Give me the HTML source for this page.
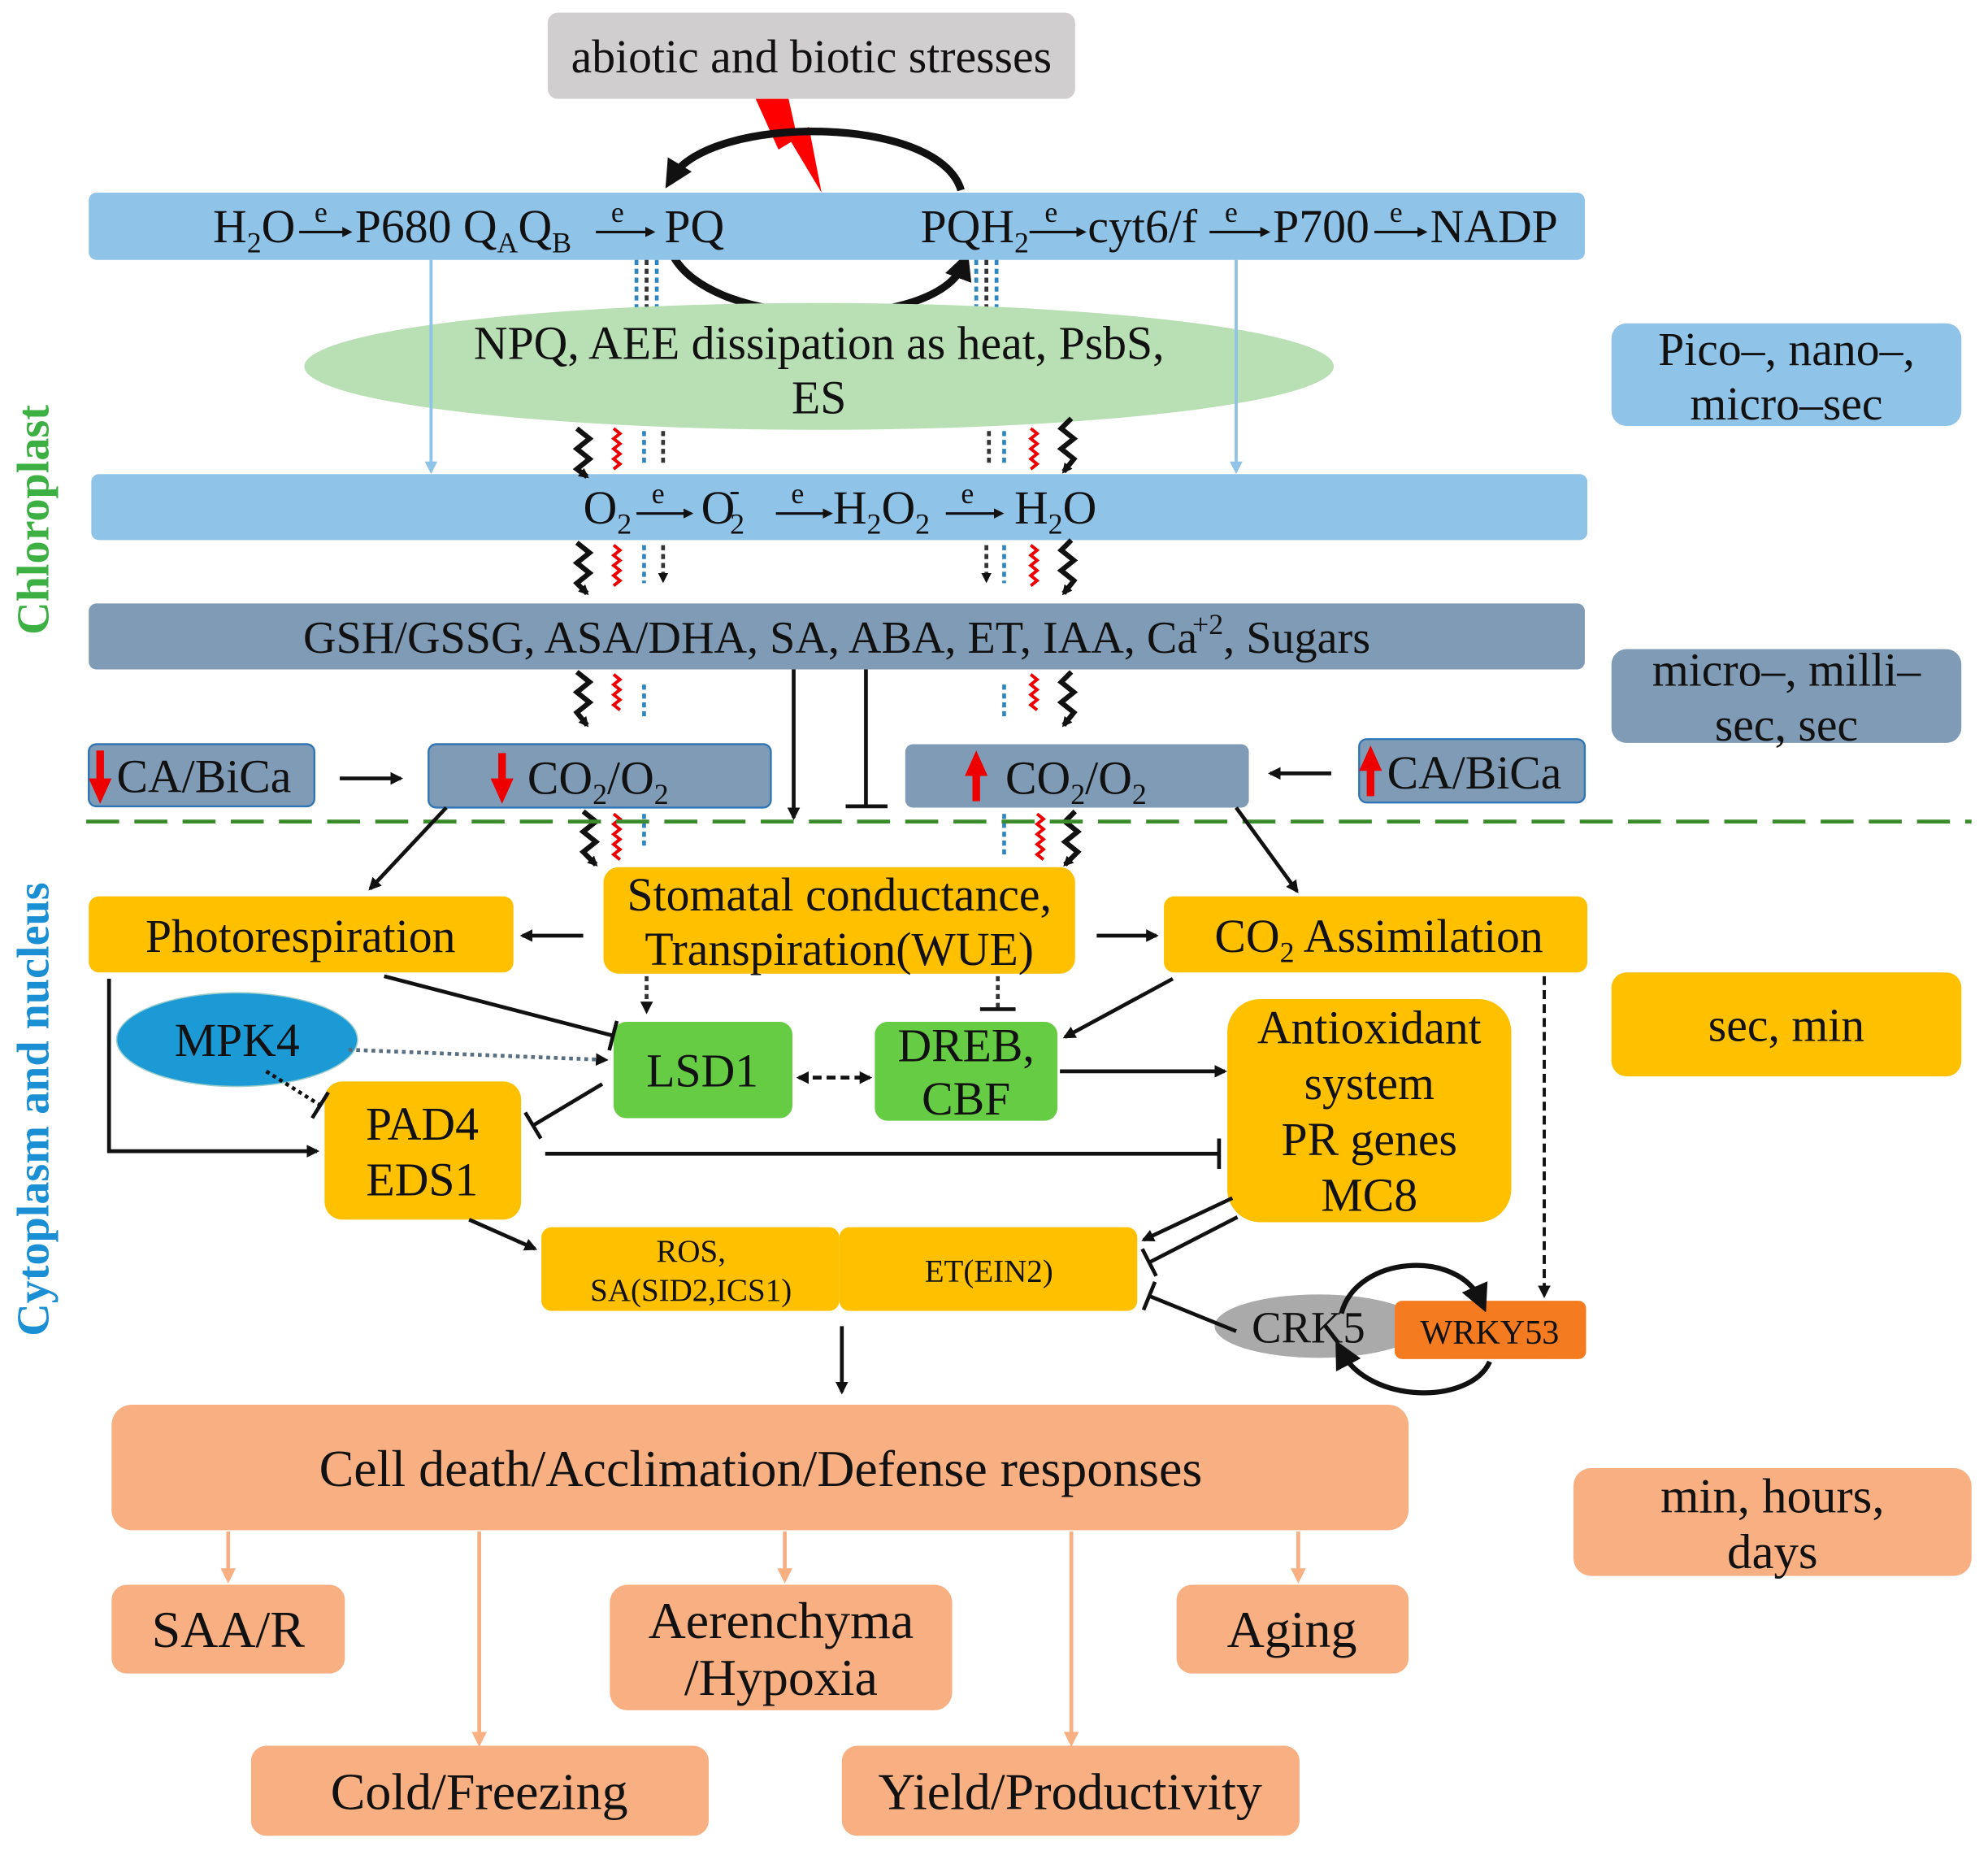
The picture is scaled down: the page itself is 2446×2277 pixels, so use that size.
<!DOCTYPE html>
<html><head><meta charset="utf-8"><style>
html,body{margin:0;padding:0;background:#fff}
svg{display:block}
text{font-family:"Liberation Serif",serif;fill:#111}
</style></head><body>
<svg width="2446" height="2277" viewBox="0 0 1568 1460" preserveAspectRatio="none" xmlns="http://www.w3.org/2000/svg">
<defs>
<marker id="a" markerWidth="8" markerHeight="8" refX="6" refY="4" orient="auto" markerUnits="userSpaceOnUse"><path d="M0,0 L8,4 L0,8 z" fill="#111"/></marker>
<marker id="ab" markerWidth="10" markerHeight="10" refX="8" refY="5" orient="auto" markerUnits="userSpaceOnUse"><path d="M0,0 L10,5 L0,10 z" fill="#111"/></marker>
<marker id="as" markerWidth="10" markerHeight="10" refX="8" refY="5" orient="auto-start-reverse" markerUnits="userSpaceOnUse"><path d="M0,0 L10,5 L0,10 z" fill="#111"/></marker>
<marker id="al" markerWidth="10" markerHeight="10" refX="8" refY="5" orient="auto" markerUnits="userSpaceOnUse"><path d="M0,0 L10,5 L0,10 z" fill="#8fc3e8"/></marker>
<marker id="ao" markerWidth="12" markerHeight="12" refX="9" refY="6" orient="auto" markerUnits="userSpaceOnUse"><path d="M0,0 L12,6 L0,12 z" fill="#f8b083"/></marker>
<marker id="t" markerWidth="4" markerHeight="24" refX="2" refY="12" orient="auto" markerUnits="userSpaceOnUse"><rect x="0" y="0" width="3" height="24" fill="#111"/></marker>
<marker id="ah" markerWidth="22" markerHeight="22" refX="12" refY="11" orient="auto" markerUnits="userSpaceOnUse"><path d="M0,0 L22,11 L0,22 z" fill="#111"/></marker>
</defs>

<rect x="432" y="10" width="416" height="68" rx="8" fill="#d0cece"/>
<text x="640" y="57" font-size="37" text-anchor="middle">abiotic and biotic stresses</text>
<path d="M596,78 L622,78 L628,105 L638,100 L648,152 L624,112 L614,118 Z" fill="#ff0000"/>
<path d="M758,150 C740,90 560,90 530,140" fill="none" stroke="#111" stroke-width="6" marker-end="url(#ah)"/>
<path d="M530,200 C560,262 740,262 760,208" fill="none" stroke="#111" stroke-width="6" marker-end="url(#ah)"/>

<rect x="70" y="152" width="1180" height="53" rx="6" fill="#8fc3e8"/>
<text y="191" font-size="37"><tspan x="168">H</tspan><tspan font-size="23" dy="8">2</tspan><tspan dy="-8">O</tspan></text>
<text x="248" y="175" font-size="23">e</text><line x1="236" y1="183" x2="276" y2="183" stroke="#111" stroke-width="2" marker-end="url(#a)"/>
<text y="191" font-size="37"><tspan x="280">P680 Q</tspan><tspan font-size="23" dy="8">A</tspan><tspan dy="-8">Q</tspan><tspan font-size="23" dy="8">B</tspan></text>
<text x="482" y="175" font-size="23">e</text><line x1="470" y1="183" x2="515" y2="183" stroke="#111" stroke-width="2" marker-end="url(#a)"/>
<text x="524" y="191" font-size="37">PQ</text>
<text y="191" font-size="37"><tspan x="726">PQH</tspan><tspan font-size="23" dy="8">2</tspan></text>
<text x="824" y="175" font-size="23">e</text><line x1="812" y1="183" x2="855" y2="183" stroke="#111" stroke-width="2" marker-end="url(#a)"/>
<text x="858" y="191" font-size="37">cyt6/f</text>
<text x="966" y="175" font-size="23">e</text><line x1="954" y1="183" x2="1000" y2="183" stroke="#111" stroke-width="2" marker-end="url(#a)"/>
<text x="1004" y="191" font-size="37">P700</text>
<text x="1096" y="175" font-size="23">e</text><line x1="1084" y1="183" x2="1124" y2="183" stroke="#111" stroke-width="2" marker-end="url(#a)"/>
<text x="1128" y="191" font-size="37">NADP</text>

<g stroke-width="3" stroke-dasharray="4,3">
<line x1="502" y1="205" x2="502" y2="245" stroke="#2e86c1"/><line x1="510" y1="205" x2="510" y2="245" stroke="#333"/><line x1="518" y1="205" x2="518" y2="245" stroke="#2e86c1"/>
<line x1="770" y1="205" x2="770" y2="245" stroke="#2e86c1"/><line x1="778" y1="205" x2="778" y2="245" stroke="#333"/><line x1="786" y1="205" x2="786" y2="245" stroke="#2e86c1"/>
</g>

<ellipse cx="646" cy="289" rx="406" ry="50" fill="#b9e0b4"/>
<text x="646" y="283" font-size="37" text-anchor="middle">NPQ, AEE dissipation as heat, PsbS,</text>
<text x="646" y="326" font-size="37" text-anchor="middle">ES</text>

<line x1="340" y1="205" x2="340" y2="372" stroke="#8fc3e8" stroke-width="2.5" marker-end="url(#al)"/>
<line x1="975" y1="205" x2="975" y2="372" stroke="#8fc3e8" stroke-width="2.5" marker-end="url(#al)"/>

<rect x="72" y="374" width="1180" height="52" rx="6" fill="#8fc3e8"/>
<text y="413" font-size="37"><tspan x="460">O</tspan><tspan font-size="23" dy="8">2</tspan></text>
<text x="514" y="397" font-size="23">e</text><line x1="502" y1="405" x2="545" y2="405" stroke="#111" stroke-width="2" marker-end="url(#a)"/>
<text y="413" font-size="37"><tspan x="553">O</tspan><tspan font-size="23" dx="-4" dy="8">2</tspan><tspan font-size="25" dx="-12" dy="-26">-</tspan></text>
<text x="624" y="397" font-size="23">e</text><line x1="612" y1="405" x2="655" y2="405" stroke="#111" stroke-width="2" marker-end="url(#a)"/>
<text y="413" font-size="37"><tspan x="657">H</tspan><tspan font-size="23" dy="8">2</tspan><tspan dy="-8">O</tspan><tspan font-size="23" dy="8">2</tspan></text>
<text x="758" y="397" font-size="23">e</text><line x1="746" y1="405" x2="790" y2="405" stroke="#111" stroke-width="2" marker-end="url(#a)"/>
<text y="413" font-size="37"><tspan x="800">H</tspan><tspan font-size="23" dy="8">2</tspan><tspan dy="-8">O</tspan></text>

<g fill="none">
<path d="M455,338 l10,8 l-10,8 l10,8 l-10,8 l8,6" stroke="#111" stroke-width="4" marker-end="url(#a)"/>
<path d="M484,338 l5,4 l-5,4 l5,4 l-5,4 l5,4 l-5,4 l5,4 l-5,4" stroke="#e00" stroke-width="2.5"/>
<line x1="508" y1="340" x2="508" y2="368" stroke="#2e86c1" stroke-width="3" stroke-dasharray="4,3"/>
<line x1="523" y1="340" x2="523" y2="368" stroke="#333" stroke-width="3" stroke-dasharray="4,3"/>
<line x1="780" y1="340" x2="780" y2="368" stroke="#333" stroke-width="3" stroke-dasharray="4,3"/>
<line x1="792" y1="340" x2="792" y2="368" stroke="#2e86c1" stroke-width="3" stroke-dasharray="4,3"/>
<path d="M813,338 l5,4 l-5,4 l5,4 l-5,4 l5,4 l-5,4 l5,4 l-5,4" stroke="#e00" stroke-width="2.5"/>
<path d="M845,330 l-8,8 l10,8 l-10,8 l10,8 l-8,10" stroke="#111" stroke-width="4" marker-end="url(#a)"/>
<path d="M455,428 l10,8 l-10,8 l10,8 l-10,8 l8,8" stroke="#111" stroke-width="4" marker-end="url(#a)"/>
<path d="M484,430 l5,4 l-5,4 l5,4 l-5,4 l5,4 l-5,4 l5,4 l-5,4" stroke="#e00" stroke-width="2.5"/>
<line x1="508" y1="430" x2="508" y2="460" stroke="#2e86c1" stroke-width="3" stroke-dasharray="4,3"/>
<line x1="523" y1="430" x2="523" y2="458" stroke="#333" stroke-width="3" stroke-dasharray="4,3" marker-end="url(#a)"/>
<line x1="778" y1="430" x2="778" y2="458" stroke="#333" stroke-width="3" stroke-dasharray="4,3" marker-end="url(#a)"/>
<line x1="792" y1="430" x2="792" y2="460" stroke="#2e86c1" stroke-width="3" stroke-dasharray="4,3"/>
<path d="M813,430 l5,4 l-5,4 l5,4 l-5,4 l5,4 l-5,4 l5,4 l-5,4" stroke="#e00" stroke-width="2.5"/>
<path d="M845,426 l-8,8 l10,8 l-10,8 l10,8 l-8,10" stroke="#111" stroke-width="4" marker-end="url(#a)"/>
<path d="M455,530 l10,8 l-10,8 l10,8 l-10,8 l8,10" stroke="#111" stroke-width="4" marker-end="url(#a)"/>
<path d="M484,532 l5,4 l-5,4 l5,4 l-5,4 l5,4 l-5,4 l5,4" stroke="#e00" stroke-width="2.5"/>
<line x1="508" y1="540" x2="508" y2="566" stroke="#2e86c1" stroke-width="3" stroke-dasharray="4,3"/>
<line x1="792" y1="540" x2="792" y2="566" stroke="#2e86c1" stroke-width="3" stroke-dasharray="4,3"/>
<path d="M813,532 l5,4 l-5,4 l5,4 l-5,4 l5,4 l-5,4 l5,4" stroke="#e00" stroke-width="2.5"/>
<path d="M845,530 l-8,8 l10,8 l-10,8 l10,8 l-8,10" stroke="#111" stroke-width="4" marker-end="url(#a)"/>
<path d="M460,640 l10,8 l-10,8 l10,8 l-10,8 l10,10" stroke="#111" stroke-width="4" marker-end="url(#a)"/>
<path d="M484,642 l5,4 l-5,4 l5,4 l-5,4 l5,4 l-5,4 l5,4 l-5,4 l5,4" stroke="#e00" stroke-width="2.5"/>
<line x1="508" y1="642" x2="508" y2="670" stroke="#2e86c1" stroke-width="3" stroke-dasharray="4,3"/>
<line x1="792" y1="642" x2="792" y2="675" stroke="#2e86c1" stroke-width="3" stroke-dasharray="4,3"/>
<path d="M818,642 l5,4 l-5,4 l5,4 l-5,4 l5,4 l-5,4 l5,4 l-5,4 l5,4" stroke="#e00" stroke-width="2.5"/>
<path d="M848,640 l-8,8 l10,8 l-10,8 l10,8 l-10,10" stroke="#111" stroke-width="4" marker-end="url(#a)"/>
</g>

<rect x="70" y="476" width="1180" height="52" rx="6" fill="#7f9bb5"/>
<text x="660" y="515" font-size="36" text-anchor="middle">GSH/GSSG, ASA/DHA, SA, ABA, ET, IAA, Ca<tspan font-size="23" dx="-4" dy="-15">+2</tspan><tspan dy="15">, Sugars</tspan></text>

<rect x="70" y="587" width="178" height="49" rx="6" fill="#7f9bb5" stroke="#2e75b6" stroke-width="1.5"/>
<text x="92" y="625" font-size="37">CA/BiCa</text>
<rect x="338" y="587" width="270" height="50" rx="6" fill="#7f9bb5" stroke="#2e75b6" stroke-width="1.5"/>
<text y="626" font-size="37"><tspan x="416">CO</tspan><tspan font-size="23" dy="8">2</tspan><tspan dy="-8">/O</tspan><tspan font-size="23" dy="8">2</tspan></text>
<rect x="714" y="587" width="271" height="50" rx="6" fill="#7f9bb5"/>
<text y="626" font-size="37"><tspan x="793">CO</tspan><tspan font-size="23" dy="8">2</tspan><tspan dy="-8">/O</tspan><tspan font-size="23" dy="8">2</tspan></text>
<rect x="1072" y="583" width="178" height="50" rx="6" fill="#7f9bb5" stroke="#2e75b6" stroke-width="1.5"/>
<text x="1094" y="622" font-size="37">CA/BiCa</text>
<g fill="#e00">
<path d="M76,592 h6 v22 h6 l-9,20 l-9,-20 h6 z"/>
<path d="M393,594 h6 v20 h6 l-9,20 l-9,-20 h6 z"/>
<path d="M767,632 h6 v-20 h6 l-9,-20 l-9,20 h6 z"/>
<path d="M1078,628 h6 v-20 h6 l-9,-20 l-9,20 h6 z"/>
</g>
<line x1="268" y1="614" x2="316" y2="614" stroke="#111" stroke-width="3" marker-end="url(#ab)"/>
<line x1="1050" y1="610" x2="1002" y2="610" stroke="#111" stroke-width="3" marker-end="url(#ab)"/>
<line x1="626" y1="528" x2="626" y2="645" stroke="#111" stroke-width="3" marker-end="url(#ab)"/>
<line x1="683" y1="528" x2="683" y2="636" stroke="#111" stroke-width="3"/>
<line x1="667" y1="636" x2="700" y2="636" stroke="#111" stroke-width="3"/>

<line x1="68" y1="648" x2="1555" y2="648" stroke="#3a8c2a" stroke-width="3" stroke-dasharray="26,12"/>

<text transform="translate(38,410) rotate(-90)" font-size="36" font-weight="bold" text-anchor="middle" style="fill:#3cb043">Chloroplast</text>
<text transform="translate(38,875) rotate(-90)" font-size="36" font-weight="bold" text-anchor="middle" style="fill:#1a8fd4">Cytoplasm and nucleus</text>

<rect x="1271" y="255" width="276" height="81" rx="12" fill="#8fc3e8"/>
<text x="1409" y="288" font-size="37" text-anchor="middle">Pico–, nano–,</text>
<text x="1409" y="331" font-size="37" text-anchor="middle">micro–sec</text>
<rect x="1271" y="512" width="276" height="74" rx="12" fill="#7f9bb5"/>
<text x="1409" y="541" font-size="37" text-anchor="middle">micro–, milli–</text>
<text x="1409" y="584" font-size="37" text-anchor="middle">sec, sec</text>
<rect x="1271" y="767" width="276" height="82" rx="12" fill="#ffc000"/>
<text x="1409" y="821" font-size="37" text-anchor="middle">sec, min</text>
<rect x="1241" y="1158" width="314" height="85" rx="14" fill="#f8b083"/>
<text x="1398" y="1193" font-size="39" text-anchor="middle">min, hours,</text>
<text x="1398" y="1237" font-size="39" text-anchor="middle">days</text>

<rect x="70" y="707" width="335" height="60" rx="8" fill="#ffc000"/>
<text x="237" y="751" font-size="37" text-anchor="middle">Photorespiration</text>
<rect x="476" y="684" width="372" height="84" rx="12" fill="#ffc000"/>
<text x="662" y="718" font-size="37" text-anchor="middle">Stomatal conductance,</text>
<text x="662" y="761" font-size="37" text-anchor="middle">Transpiration(WUE)</text>
<rect x="918" y="707" width="334" height="60" rx="8" fill="#ffc000"/>
<text y="751" font-size="37"><tspan x="958">CO</tspan><tspan font-size="23" dy="8">2</tspan><tspan dy="-8"> Assimilation</tspan></text>

<line x1="460" y1="738" x2="412" y2="738" stroke="#111" stroke-width="3" marker-end="url(#ab)"/>
<line x1="865" y1="738" x2="912" y2="738" stroke="#111" stroke-width="3" marker-end="url(#ab)"/>
<line x1="352" y1="637" x2="292" y2="701" stroke="#111" stroke-width="3" marker-end="url(#ab)"/>
<line x1="975" y1="637" x2="1023" y2="703" stroke="#111" stroke-width="3" marker-end="url(#ab)"/>

<ellipse cx="187" cy="820" rx="95" ry="37" fill="#1b9ad6" stroke="#9cc" stroke-width="1"/>
<text x="187" y="833" font-size="37" text-anchor="middle">MPK4</text>
<rect x="484" y="806" width="141" height="76" rx="10" fill="#66cc44"/>
<text x="554" y="857" font-size="37" text-anchor="middle">LSD1</text>
<rect x="690" y="806" width="144" height="78" rx="10" fill="#66cc44"/>
<text x="762" y="837" font-size="37" text-anchor="middle">DREB,</text>
<text x="762" y="879" font-size="37" text-anchor="middle">CBF</text>
<rect x="968" y="788" width="224" height="176" rx="26" fill="#ffc000"/>
<text x="1080" y="823" font-size="37" text-anchor="middle">Antioxidant</text>
<text x="1080" y="867" font-size="37" text-anchor="middle">system</text>
<text x="1080" y="911" font-size="37" text-anchor="middle">PR genes</text>
<text x="1080" y="955" font-size="37" text-anchor="middle">MC8</text>
<rect x="256" y="853" width="155" height="109" rx="14" fill="#ffc000"/>
<text x="333" y="899" font-size="37" text-anchor="middle">PAD4</text>
<text x="333" y="943" font-size="37" text-anchor="middle">EDS1</text>
<rect x="427" y="968" width="235" height="66" rx="8" fill="#ffc000"/>
<text x="545" y="995" font-size="25" text-anchor="middle">ROS,</text>
<text x="545" y="1026" font-size="25" text-anchor="middle">SA(SID2,ICS1)</text>
<rect x="662" y="968" width="235" height="66" rx="8" fill="#ffc000"/>
<text x="780" y="1011" font-size="25" text-anchor="middle">ET(EIN2)</text>
<ellipse cx="1040" cy="1046" rx="82" ry="25" fill="#aaaaaa"/>
<text x="1032" y="1059" font-size="35" text-anchor="middle">CRK5</text>
<rect x="1100" y="1026" width="151" height="46" rx="6" fill="#f47b20"/>
<text x="1175" y="1060" font-size="27" text-anchor="middle">WRKY53</text>
<path d="M1058,1036 C1070,990 1150,985 1168,1026" fill="none" stroke="#111" stroke-width="4" marker-end="url(#ah)"/>
<path d="M1175,1074 C1160,1108 1080,1108 1058,1066" fill="none" stroke="#111" stroke-width="4" marker-end="url(#ah)"/>

<line x1="303" y1="770" x2="484" y2="817" stroke="#111" stroke-width="3" marker-end="url(#t)"/>
<line x1="510" y1="770" x2="510" y2="798" stroke="#333" stroke-width="3" stroke-dasharray="4,3" marker-end="url(#ab)"/>
<line x1="787" y1="770" x2="787" y2="796" stroke="#333" stroke-width="3" stroke-dasharray="4,3"/>
<line x1="773" y1="796" x2="801" y2="796" stroke="#111" stroke-width="3"/>
<line x1="925" y1="772" x2="840" y2="818" stroke="#111" stroke-width="3" marker-end="url(#ab)"/>
<line x1="1218" y1="770" x2="1218" y2="1022" stroke="#111" stroke-width="2.5" stroke-dasharray="7,4" marker-end="url(#ab)"/>
<line x1="275" y1="828" x2="478" y2="836" stroke="#5a6f80" stroke-width="3" stroke-dasharray="3,3" marker-end="url(#ab)"/>
<line x1="210" y1="845" x2="253" y2="872" stroke="#111" stroke-width="3" stroke-dasharray="3,3" marker-end="url(#t)"/>
<line x1="630" y1="850" x2="686" y2="850" stroke="#111" stroke-width="3" stroke-dasharray="7,4" marker-start="url(#as)" marker-end="url(#as)"/>
<line x1="475" y1="855" x2="420" y2="888" stroke="#111" stroke-width="3" marker-end="url(#t)"/>
<line x1="836" y1="845" x2="966" y2="845" stroke="#111" stroke-width="3" marker-end="url(#ab)"/>
<line x1="430" y1="910" x2="962" y2="910" stroke="#111" stroke-width="3" marker-end="url(#t)"/>
<polyline points="86,772 86,908 250,908" fill="none" stroke="#111" stroke-width="3" marker-end="url(#ab)"/>
<line x1="370" y1="962" x2="422" y2="985" stroke="#111" stroke-width="3" marker-end="url(#ab)"/>
<line x1="972" y1="945" x2="902" y2="978" stroke="#111" stroke-width="3" marker-end="url(#ab)"/>
<line x1="976" y1="960" x2="906" y2="996" stroke="#111" stroke-width="3" marker-end="url(#t)"/>
<line x1="975" y1="1050" x2="906" y2="1022" stroke="#111" stroke-width="3" marker-end="url(#t)"/>
<line x1="664" y1="1046" x2="664" y2="1098" stroke="#111" stroke-width="3" marker-end="url(#ab)"/>

<rect x="88" y="1108" width="1023" height="99" rx="16" fill="#f8b083"/>
<text x="600" y="1172" font-size="41" text-anchor="middle">Cell death/Acclimation/Defense responses</text>
<g stroke="#f8b083" stroke-width="3">
<line x1="180" y1="1208" x2="180" y2="1246" marker-end="url(#ao)"/>
<line x1="378" y1="1208" x2="378" y2="1375" marker-end="url(#ao)"/>
<line x1="619" y1="1208" x2="619" y2="1246" marker-end="url(#ao)"/>
<line x1="845" y1="1208" x2="845" y2="1375" marker-end="url(#ao)"/>
<line x1="1024" y1="1208" x2="1024" y2="1246" marker-end="url(#ao)"/>
</g>
<rect x="88" y="1250" width="184" height="70" rx="12" fill="#f8b083"/>
<text x="180" y="1299" font-size="41" text-anchor="middle">SAA/R</text>
<rect x="481" y="1250" width="270" height="99" rx="14" fill="#f8b083"/>
<text x="616" y="1292" font-size="41" text-anchor="middle">Aerenchyma</text>
<text x="616" y="1337" font-size="41" text-anchor="middle">/Hypoxia</text>
<rect x="928" y="1250" width="183" height="70" rx="12" fill="#f8b083"/>
<text x="1019" y="1299" font-size="41" text-anchor="middle">Aging</text>
<rect x="198" y="1377" width="361" height="71" rx="12" fill="#f8b083"/>
<text x="378" y="1427" font-size="41" text-anchor="middle">Cold/Freezing</text>
<rect x="664" y="1377" width="361" height="71" rx="12" fill="#f8b083"/>
<text x="844" y="1427" font-size="41" text-anchor="middle">Yield/Productivity</text>
</svg>
</body></html>
